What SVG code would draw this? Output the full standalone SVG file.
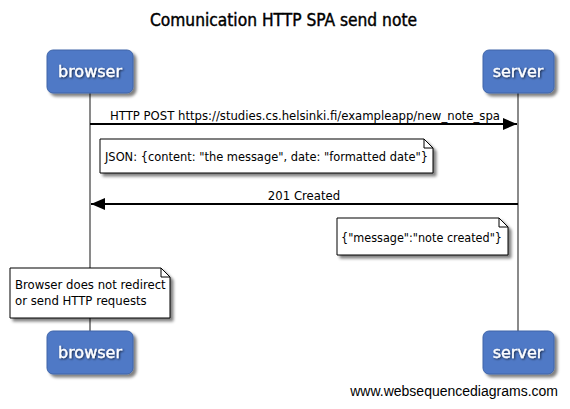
<svg xmlns="http://www.w3.org/2000/svg" width="570" height="409" viewBox="0 0 570 409">
<defs>
<filter id="sh" x="-20%" y="-20%" width="150%" height="150%"><feGaussianBlur in="SourceAlpha" stdDeviation="1.5"/><feOffset dx="3" dy="3"/><feComponentTransfer><feFuncA type="linear" slope="0.5"/></feComponentTransfer><feMerge><feMergeNode/><feMergeNode in="SourceGraphic"/></feMerge></filter>
<filter id="ts"><feGaussianBlur in="SourceAlpha" stdDeviation="0.8"/><feOffset dx="1" dy="1"/><feComponentTransfer><feFuncA type="linear" slope="0.7"/></feComponentTransfer><feMerge><feMergeNode/><feMergeNode in="SourceGraphic"/></feMerge></filter>
<marker id="ah" markerWidth="14" markerHeight="12" refX="14" refY="6" orient="auto" markerUnits="userSpaceOnUse"><path d="M0,0 L14,6 L0,12 Z" fill="#000"/></marker>
</defs>
<style>
.box{fill:#4f79c6;stroke:#3f64a8;stroke-width:1}
.pl{font-family:"DejaVu Sans",sans-serif;font-size:16px;fill:#fff;text-anchor:middle;stroke:#fff;stroke-width:0.3}
.life{stroke:#8a8a8a;stroke-width:2}
.msg{stroke:#000;stroke-width:2;fill:none}
.t{font-family:"DejaVu Sans Condensed","DejaVu Sans",sans-serif;font-size:13px;fill:#000}
.note{fill:#fff;stroke:#000;stroke-width:1}
.fold{fill:none;stroke:#000;stroke-width:1}
</style>
<rect width="570" height="409" fill="#fff"/>
<text x="150" y="26" textLength="267" lengthAdjust="spacingAndGlyphs" style="font-family:'DejaVu Sans Condensed','DejaVu Sans',sans-serif;font-size:17px;fill:#000;stroke:#000;stroke-width:0.4">Comunication HTTP SPA send note</text>
<g id="lifelines">
<line class="life" x1="90" y1="93" x2="90" y2="332"/>
<line class="life" x1="518" y1="93" x2="518" y2="332"/>
</g>
<g id="browser">
<rect class="box" x="47" y="50" width="86" height="43" rx="6" filter="url(#sh)"/>
<text class="pl" x="90" y="77" filter="url(#ts)">browser</text>
</g>
<g id="server">
<rect class="box" x="483" y="50" width="71" height="43" rx="6" filter="url(#sh)"/>
<text class="pl" x="518" y="77" filter="url(#ts)">server</text>
</g>
<g id="browser-bottom">
<rect class="box" x="47" y="331" width="86" height="43" rx="6" filter="url(#sh)"/>
<text class="pl" x="90" y="358" filter="url(#ts)">browser</text>
</g>
<g id="server-bottom">
<rect class="box" x="483" y="331" width="71" height="43" rx="6" filter="url(#sh)"/>
<text class="pl" x="518" y="358" filter="url(#ts)">server</text>
</g>
<g id="connectors">
<line class="msg" x1="90" y1="124" x2="517" y2="124" marker-end="url(#ah)"/>
<text class="t" x="110" y="120" textLength="390" lengthAdjust="spacingAndGlyphs">HTTP POST https://studies.cs.helsinki.fi/exampleapp/new_note_spa</text>
<line class="msg" x1="518" y1="204" x2="91" y2="204" marker-end="url(#ah)"/>
<text class="t" x="304" y="200" text-anchor="middle">201 Created</text>
</g>
<g id="note1">
<path class="note" d="M100,139 H424 L433,148 V173 H100 Z" filter="url(#sh)"/>
<path class="fold" d="M424,139 V148 H433"/>
<text class="t" x="105" y="161" textLength="323" lengthAdjust="spacingAndGlyphs">JSON: {content: "the message", date: "formatted date"}</text>
</g>
<g id="note2">
<path class="note" d="M337,218 H499 L508,227 V255 H337 Z" filter="url(#sh)"/>
<path class="fold" d="M499,218 V227 H508"/>
<text class="t" x="341" y="242" textLength="161" lengthAdjust="spacingAndGlyphs">{"message":"note created"}</text>
</g>
<g id="note3">
<path class="note" d="M10,268 H161 L170,277 V318 H10 Z" filter="url(#sh)"/>
<path class="fold" d="M161,268 V277 H170"/>
<text class="t" x="15" y="289">Browser does not redirect</text>
<text class="t" x="15" y="305">or send HTTP requests</text>
</g>
<text x="558" y="396" text-anchor="end" style="font-family:'Liberation Sans',Arial,sans-serif;font-size:14px;fill:#000">www.websequencediagrams.com</text>
</svg>
